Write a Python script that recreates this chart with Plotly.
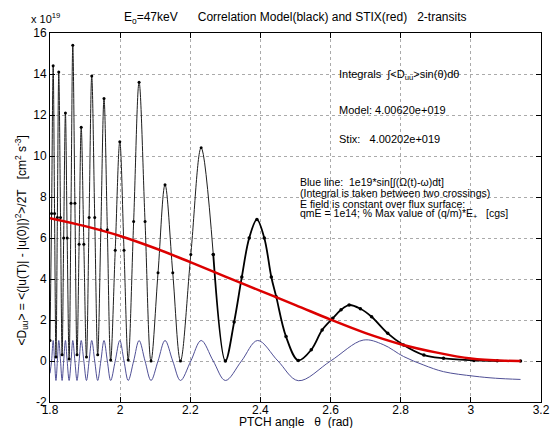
import plotly.graph_objects as go

# Correlation model (black), in units of 1e19
theta_black = [1.800, 1.8045, 1.809, 1.813, 1.817, 1.821, 1.825, 1.830, 1.8345, 1.839, 1.844, 1.849,
               1.8545, 1.860, 1.865, 1.871, 1.877, 1.883, 1.889, 1.8965, 1.904, 1.9115, 1.919, 1.9275,
               1.936, 1.945, 1.954, 1.9635, 1.973, 1.986, 1.999, 2.011, 2.023, 2.0385, 2.054, 2.071,
               2.088, 2.108, 2.128, 2.150, 2.172, 2.2015, 2.231, 2.2655, 2.300, 2.325, 2.347, 2.368,
               2.390, 2.411, 2.431, 2.445, 2.473, 2.508, 2.545, 2.576, 2.606, 2.630, 2.653, 2.685,
               2.717, 2.763, 2.808, 2.866, 2.922, 3.009, 3.075, 3.1416]
d_black = [1.0, 7.2, 14.4, 7.2, 0.2, 7.0, 14.1, 7.0, 0.3, 6.0, 12.1, 6.0,
           0.1, 7.7, 15.4, 7.7, 0.3, 5.7, 11.4, 5.7, 0.2, 7.0, 13.9, 7.0,
           0.3, 6.4, 12.8, 6.4, 0.05, 5.4, 10.7, 5.4, 0.05, 6.8, 13.6, 6.8,
           0.0, 4.3, 8.6, 4.3, 0.0, 5.2, 10.4, 5.2, 0.0, 1.9, 4.1, 6.0,
           6.9, 6.0, 4.1, 3.14, 1.19, 0.03, 0.55, 1.51, 2.08, 2.5, 2.73, 2.55,
           2.16, 1.35, 0.78, 0.29, 0.13, 0.03, 0.01, 0.0]

# Blue line: 1e19*sin[...], in units of 1e19
theta_blue = [1.800, 1.8045, 1.809, 1.813, 1.817, 1.821, 1.825, 1.830, 1.8345, 1.839, 1.844, 1.849,
              1.8545, 1.860, 1.865, 1.871, 1.877, 1.883, 1.889, 1.8965, 1.904, 1.9115, 1.919, 1.9275,
              1.936, 1.945, 1.954, 1.9635, 1.973, 1.986, 1.999, 2.011, 2.023, 2.0385, 2.054, 2.071,
              2.088, 2.108, 2.128, 2.150, 2.172, 2.2015, 2.231, 2.2655, 2.300, 2.346, 2.392, 2.450,
              2.508, 2.600, 2.693, 2.750, 2.808, 2.866, 2.922, 3.009, 3.070, 3.1416]
d_blue = [-0.6, 0.0, 1.0, 0.0, -0.95, 0.0, 1.0, 0.0, -0.95, 0.0, 1.0, 0.0,
          -0.95, 0.0, 1.0, 0.0, -0.95, 0.0, 1.0, 0.0, -0.95, 0.0, 1.0, 0.0,
          -0.95, 0.0, 1.0, 0.0, -0.95, 0.0, 1.0, 0.0, -0.95, 0.0, 1.0, 0.0,
          -0.95, 0.0, 1.0, 0.0, -0.95, 0.0, 1.0, 0.0, -0.95, 0.0, 1.0, 0.0,
          -0.96, 0.0, 1.02, 0.8, 0.22, -0.2, -0.52, -0.74, -0.84, -0.9]

# STIX (red), in units of 1e19
theta_red = [1.800, 1.900, 2.000, 2.100, 2.200, 2.300, 2.400, 2.500, 2.600, 2.700, 2.800,
             2.900, 3.000, 3.100, 3.1416]
d_red = [6.97, 6.58, 6.10, 5.50, 4.82, 4.12, 3.42, 2.73, 2.02, 1.36, 0.82,
         0.42, 0.12, 0.01, 0.0]

x_ticks = [1.8, 2.0, 2.2, 2.4, 2.6, 2.8, 3.0, 3.2]
x_tick_labels = ["1.8", "2", "2.2", "2.4", "2.6", "2.8", "3", "3.2"]
y_ticks = [-2, 0, 2, 4, 6, 8, 10, 12, 14, 16]
y_tick_labels = ["-2", "0", "2", "4", "6", "8", "10", "12", "14", "16"]

FONT = "Liberation Sans, Arial, sans-serif"
NB = "\u00a0"

# split the black curve: thin spiky part, bolder smooth part on the right
split = theta_black.index(2.2655)

fig = go.Figure()
fig.add_trace(go.Scatter(x=theta_blue, y=d_blue, mode="lines",
                         line=dict(color="rgb(80,80,150)", width=1, shape="spline"),
                         hoverinfo="skip"))
fig.add_trace(go.Scatter(x=theta_black[:split + 1], y=d_black[:split + 1], mode="lines+markers",
                         line=dict(color="rgb(30,30,30)", width=1, shape="spline"),
                         marker=dict(color="black", size=3), hoverinfo="skip"))
fig.add_trace(go.Scatter(x=theta_black[split:], y=d_black[split:], mode="lines+markers",
                         line=dict(color="black", width=1.8, shape="spline"),
                         marker=dict(color="black", size=3.5), hoverinfo="skip"))
fig.add_trace(go.Scatter(x=theta_red, y=d_red, mode="lines",
                         line=dict(color="rgb(220,0,0)", width=2.5, shape="spline"),
                         hoverinfo="skip"))

axis_common = dict(showline=True, linecolor="black", linewidth=1, mirror="ticks",
                   ticks="inside", ticklen=5, tickcolor="black",
                   showgrid=True, gridcolor="rgb(170,170,170)", griddash="dot", gridwidth=1,
                   zeroline=False, tickfont=dict(family=FONT, size=12, color="black"))

# page body has an 8 px margin: figure is 8 px smaller and offset by 8 px
OFF = 8
fig.update_layout(
    width=560 - OFF, height=428 - OFF,
    margin=dict(l=50 - OFF, r=10, t=33 - OFF, b=26),
    paper_bgcolor="white", plot_bgcolor="white",
    showlegend=False,
    font=dict(family=FONT, size=12, color="black"),
    xaxis=dict(range=[1.8, 3.2], tickvals=x_ticks, ticktext=x_tick_labels,
               ticklabelstandoff=-3, **axis_common),
    yaxis=dict(range=[-2, 16], tickvals=y_ticks, ticktext=y_tick_labels, **axis_common),
)

anns = []
def pxa(x, y, text, size=12, xanchor="center", angle=0):
    # x, y: page pixel positions; plot area spans x 50..550, y 33..402
    anns.append(dict(xref="paper", yref="paper",
                     x=(x - 50) / 500.0, y=(402 - y) / 369.0,
                     text=text, showarrow=False, xanchor=xanchor, yanchor="middle",
                     textangle=angle, font=dict(family=FONT, size=size, color="black")))

pxa(300, 18, "E<sub>o</sub>=47keV" + NB * 6 + "Correlation Model(black) and STIX(red)" + NB * 3 + "2-transits", 12)
pxa(29, 18, "x 10<sup>19</sup>", 11, xanchor="left")
pxa(300, 422, "PTCH angle" + NB * 3 + "θ" + NB * 2 + "(rad)", 12)
pxa(21, 241, "<D<sub>uu</sub>> = <(|u(T)| - |u(0)|)<sup>2</sup>>/2T" + NB * 3 + "[cm<sup>2</sup> s<sup>-3</sup>]", 12, angle=-90)

pxa(342, 75, "Integrals" + NB * 2 + "∫<D<sub>uu</sub>>sin(θ)dθ", 11, xanchor="left")
pxa(342, 110, "Model: 4.00620e+019", 11, xanchor="left")
pxa(342, 139, "Stix:" + NB * 3 + "4.00202e+019", 11, xanchor="left")

pxa(303, 182, "Blue line:" + NB * 2 + "1e19*sin[∫(Ω(t)-ω)dt]", 10.5, xanchor="left")
pxa(303, 193, "(Integral is taken between two crossings)", 10.5, xanchor="left")
pxa(303, 204, "E field is constant over flux surface:", 10.5, xanchor="left")
pxa(303, 214, "qmE = 1e14; % Max value of (q/m)*E<sub>+</sub>" + NB * 3 + "[cgs]", 10.5, xanchor="left")

fig.update_layout(annotations=anns)
fig.write_html("out.html")
